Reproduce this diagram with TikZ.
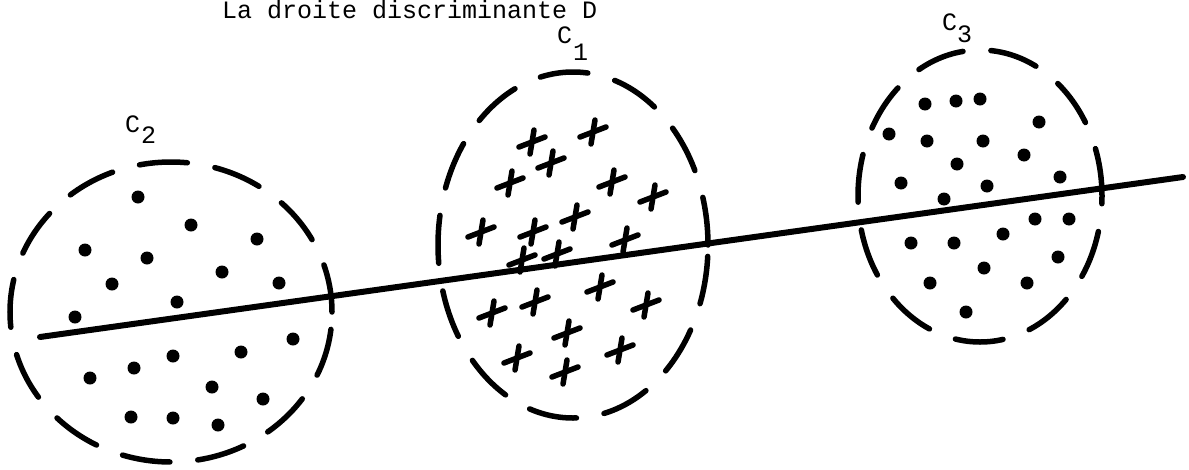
\documentclass[tikz,border=0pt]{standalone}
\usepackage{fontspec}
\setmonofont{Liberation Mono}
\usetikzlibrary{shapes.geometric}
\tikzset{
  lbl/.style={inner sep=0pt, anchor=base west, font=\ttfamily\fontsize{25}{25}\selectfont},
  clusterbox/.style={ellipse, draw, inner sep=0pt, line width=5.5pt, line cap=round,
     dash pattern=on 48pt off 28pt},
  dot/.style={fill=black},
  plusstroke/.style={line width=5.5pt, line cap=round},
  plusmark/.pic={
    \draw[plusstroke] (-13,5) -- (13,-5);
    \draw[plusstroke] (2,-12) -- (-2,12);
  }
}
\begin{document}
\begin{tikzpicture}[x=1pt,y=-1pt]
\useasboundingbox (0,0) rectangle (1189,469);

% title
\node[lbl] (title) at (222,18) {La droite discriminante D};

% cluster outlines
\node[clusterbox, minimum width=322pt, minimum height=300pt] (c2) at (171,312) {};
\node[clusterbox, minimum width=270pt, minimum height=346pt] (c1) at (573,245) {};
\node[clusterbox, minimum width=244pt, minimum height=292pt] (c3) at (980,196) {};

% labels
\node[lbl] (c1l) at (557,43) {C};
\node[lbl] (c1s) at (573,60) {1};
\node[lbl] (c2l) at (125,132) {C};
\node[lbl] (c2s) at (141,143) {2};
\node[lbl] (c3l) at (942,30) {C};
\node[lbl] (c3s) at (957,42) {3};

% discriminant line
\coordinate (lineA) at (40,337);
\coordinate (lineB) at (1183,177);
\draw[line width=6pt, line cap=round] (lineA) -- (lineB);

% C2 dots
\foreach \p in {(138,197),(191,225),(257,239),(85,250),(147,258),(222,272),(112,284),
  (279,283),(177,302),(75,317),(293,339),(173,356),(241,352),(134,368),(90,378),
  (212,387),(263,399),(131,417),(173,418),(218,425)}
  \fill[dot] \p circle (6.5);

% C3 dots
\foreach \p in {(925,104),(956,101),(980,99),(1039,122),(889,134),(927,141),(983,141),
  (1024,155),(957,164),(901,183),(987,186),(1060,177),(944,199),(1035,219),(1069,219),
  (911,243),(954,243),(1003,234),(1058,257),(984,268),(930,283),(1027,283),(966,312)}
  \fill[dot] \p circle (6.5);

% C1 crosses
\foreach \p in {(593,132),(532,142),(551,163),(510,183),(612,182),(653,197),(575,217),
  (481,232),(533,232),(625,240),(557,254),(522,260),(600,287),(535,302),(646,305),
  (492,313),(567,333),(620,350),(517,358),(565,372)}
  \pic at \p {plusmark};
\end{tikzpicture}
\end{document}
